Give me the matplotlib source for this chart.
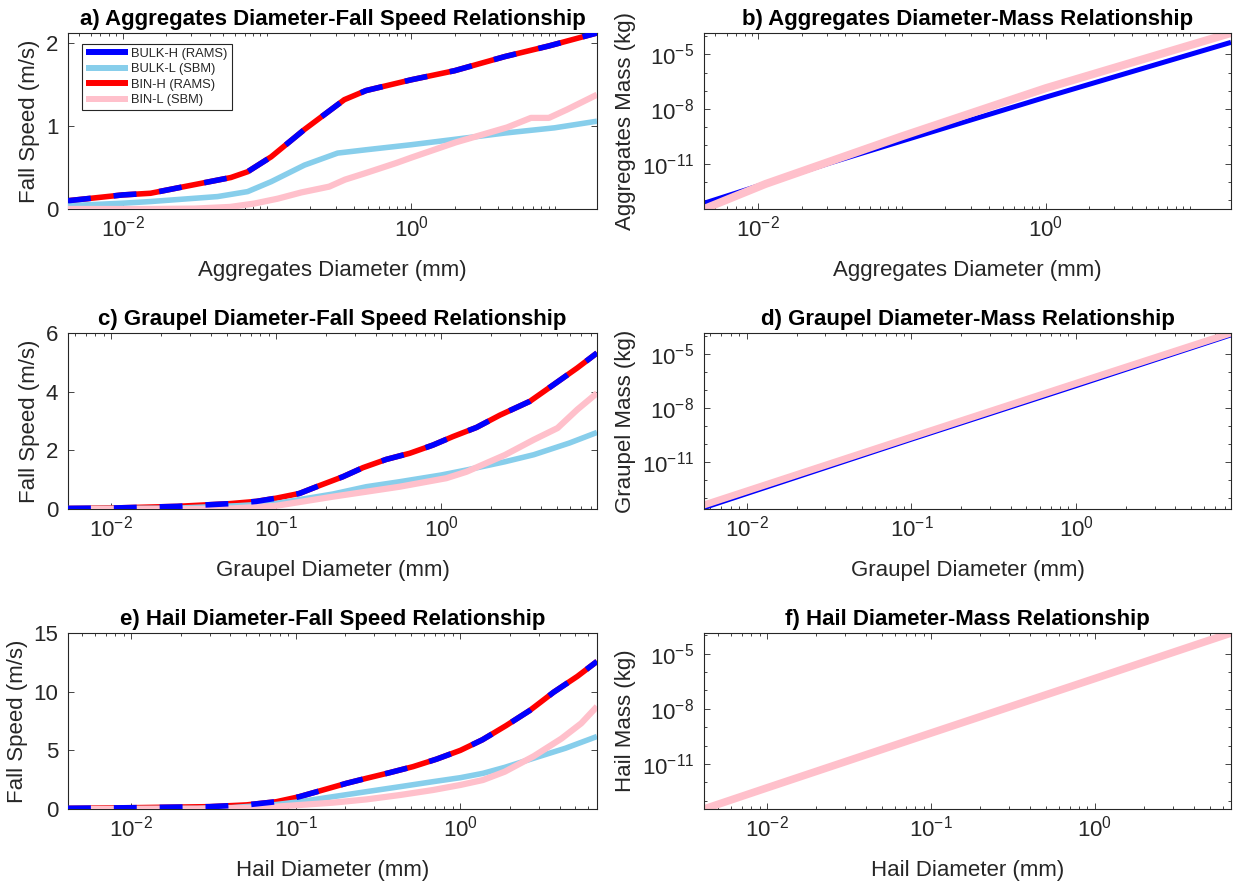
import matplotlib
matplotlib.use("Agg")
import matplotlib.pyplot as plt
from matplotlib.lines import Line2D
from matplotlib.ticker import FixedLocator, NullFormatter, LogFormatterSciNotation

plt.rcParams["font.family"] = ["Liberation Sans", "DejaVu Sans"]
plt.rcParams["lines.scale_dashes"] = False
plt.rcParams["axes.unicode_minus"] = False

# ---------------- Aggregates ----------------
agg_d_bulk_h = [0.00418, 0.0100, 0.0156, 0.0267, 0.0562, 0.0735, 0.107, 0.182, 0.344, 0.486,
                1.00, 2.00, 4.45, 9.06, 19.4]
agg_v_bulk_h = [0.10, 0.17, 0.19, 0.27, 0.38, 0.45, 0.63, 0.96, 1.32, 1.43,
                1.56, 1.67, 1.84, 1.97, 2.125]
agg_d_bin_h = agg_d_bulk_h
agg_v_bin_h = agg_v_bulk_h
agg_d_bulk_l = [0.00418, 0.0100, 0.0156, 0.0455, 0.0735, 0.107, 0.182, 0.309, 0.486,
                1.00, 1.90, 4.45, 9.84, 19.4]
agg_v_bulk_l = [0.04, 0.07, 0.09, 0.15, 0.21, 0.33, 0.53, 0.675, 0.715,
                0.776, 0.836, 0.917, 0.98, 1.06]
agg_d_bin_l = [0.00418, 0.0158, 0.0316, 0.0555, 0.0813, 0.119, 0.173, 0.270, 0.348, 0.476,
               0.787, 1.00, 2.04, 4.62, 6.76, 9.00, 12.0, 19.4]
agg_v_bin_l = [0.0, 0.0, 0.005, 0.025, 0.065, 0.125, 0.20, 0.27, 0.355, 0.43,
               0.555, 0.62, 0.805, 0.985, 1.10, 1.10, 1.20, 1.38]

agg_md_bulk_h = [0.00418, 0.0316, 1.00, 19.4]
agg_m_bulk_h = [6.6e-14, 1.1e-11, 4.5e-8, 4.6e-5]
agg_md_bin_l = [0.00418, 0.0112, 0.100, 1.00, 19.4]
agg_m_bin_l = [3.2e-14, 7.6e-13, 3.2e-10, 1.4e-7, 1.5e-4]

# ---------------- Graupel ----------------
grp_d_bulk_h = [0.00548, 0.0104, 0.0251, 0.0515, 0.0759, 0.100, 0.138, 0.183, 0.253, 0.335,
                0.463, 0.643, 0.889, 1.175, 1.63, 2.26, 3.43, 4.78, 6.65, 8.75]
grp_v_bulk_h = [0.02, 0.035, 0.09, 0.18, 0.26, 0.37, 0.53, 0.80, 1.10, 1.41,
                1.69, 1.90, 2.18, 2.47, 2.78, 3.20, 3.67, 4.24, 4.81, 5.32]
grp_d_bin_h = grp_d_bulk_h
grp_v_bin_h = grp_v_bulk_h
grp_d_bulk_l = [0.00548, 0.0251, 0.0575, 0.100, 0.220, 0.351, 0.559, 1.00, 1.42, 2.42,
                3.62, 5.96, 8.75]
grp_v_bulk_l = [0.01, 0.03, 0.11, 0.19, 0.51, 0.76, 0.93, 1.16, 1.33, 1.61,
                1.85, 2.25, 2.61]
grp_d_bin_l = [0.00548, 0.0316, 0.0545, 0.100, 0.220, 0.351, 0.559, 1.07, 1.42, 2.42,
               3.62, 5.05, 6.65, 8.75]
grp_v_bin_l = [0.0, 0.0, 0.02, 0.11, 0.42, 0.59, 0.76, 1.05, 1.27, 1.84,
               2.36, 2.76, 3.39, 3.95]

grp_md = [0.00548, 0.100, 1.00, 8.75]
grp_m_bulk_h = [2.5e-14, 1.6e-10, 1.5e-7, 1.0e-4]
grp_m_bin_l = [4.2e-14, 2.5e-10, 2.4e-7, 1.5e-4]

# ---------------- Hail ----------------
hail_d_bulk_h = [0.00412, 0.0100, 0.0299, 0.0501, 0.0760, 0.105, 0.146, 0.203, 0.269, 0.372,
                 0.515, 0.716, 1.00, 1.36, 1.89, 2.64, 3.68, 5.13, 6.76]
hail_v_bulk_h = [0.06, 0.11, 0.20, 0.35, 0.62, 1.05, 1.62, 2.19, 2.62, 3.10,
                 3.61, 4.25, 5.0, 5.9, 7.1, 8.4, 9.95, 11.3, 12.58]
hail_d_bin_h = hail_d_bulk_h
hail_v_bin_h = hail_v_bulk_h
hail_d_bulk_l = [0.00412, 0.0251, 0.0407, 0.0760, 0.105, 0.168, 0.269, 0.428, 0.682, 1.00,
                 1.37, 1.86, 2.79, 4.35, 6.76]
hail_v_bulk_l = [0.02, 0.05, 0.12, 0.38, 0.62, 1.05, 1.48, 1.90, 2.33, 2.67,
                 3.04, 3.55, 4.33, 5.18, 6.18]
hail_d_bin_l = [0.00412, 0.0251, 0.0631, 0.105, 0.168, 0.269, 0.428, 0.682, 1.00, 1.37,
                1.86, 2.79, 4.11, 5.42, 6.76]
hail_v_bin_l = [0.0, 0.02, 0.12, 0.34, 0.54, 0.82, 1.19, 1.62, 2.05, 2.47,
                3.18, 4.5, 6.0, 7.3, 8.74]

hail_md = [0.00412, 0.0100, 0.100, 1.00, 6.76]
hail_m_bin_l = [3.5e-14, 5.0e-13, 4.8e-10, 4.5e-7, 1.35e-4]

series_labels = ["BULK-H (RAMS)", "BULK-L (SBM)", "BIN-H (RAMS)", "BIN-L (SBM)"]

# ---------------- styling ----------------
C_BULK_H = (0.0, 0.0, 1.0)
C_BULK_L = "#87CEEB"
C_BIN_H = (1.0, 0.0, 0.0)
C_BIN_L = "#FFC0CB"
AX_COL = "#262626"
FS = 16
DASH = (0, (16.5, 16.5))
XPAD = 13

fig = plt.figure(figsize=(12.33, 8.86), dpi=100)

W, H = 1233.0, 886.0
cols = [(68, 529), (704, 527)]
rows = [33, 333, 633]
AXH = 176


def make_axes(r, c):
    x0, w = cols[c]
    top = rows[r]
    return fig.add_axes([x0 / W, 1 - (top + AXH) / H, w / W, AXH / H])


def style(ax, xmajor, ylog=False, ymajor=None, yminor=None):
    ax.set_xscale("log")
    ax.xaxis.set_major_locator(FixedLocator(xmajor))
    ax.xaxis.set_major_formatter(LogFormatterSciNotation())
    ax.xaxis.set_minor_locator(FixedLocator(
        [m * 10.0 ** e for e in range(-4, 3) for m in range(1, 10)]))
    ax.xaxis.set_minor_formatter(NullFormatter())
    if ylog:
        ax.set_yscale("log")
        ax.yaxis.set_major_locator(FixedLocator(ymajor))
        ax.yaxis.set_major_formatter(LogFormatterSciNotation())
        ax.yaxis.set_minor_locator(FixedLocator(yminor))
        ax.yaxis.set_minor_formatter(NullFormatter())
    else:
        ax.yaxis.set_major_locator(FixedLocator(ymajor))
    for s in ax.spines.values():
        s.set_color(AX_COL)
        s.set_linewidth(0.8)
    ax.tick_params(which="both", direction="in", top=True, right=True,
                   colors=AX_COL, labelcolor=AX_COL, labelsize=FS, width=0.6)
    ax.tick_params(which="major", length=4.0)
    ax.tick_params(axis="x", which="major", pad=5)
    ax.tick_params(axis="y", which="major", pad=7)
    ax.tick_params(which="minor", length=2.2)


def speed_panel(ax, d_bulk_h, v_bulk_h, d_bin_h, v_bin_h, d_bulk_l, v_bulk_l,
                d_bin_l, v_bin_l):
    ax.plot(d_bin_h, v_bin_h, color=C_BIN_H, lw=4.0, solid_capstyle="butt", zorder=2)
    ax.plot(d_bulk_l, v_bulk_l, color=C_BULK_L, lw=4.0, solid_capstyle="butt", zorder=3)
    ax.plot(d_bin_l, v_bin_l, color=C_BIN_L, lw=4.5, solid_capstyle="butt", zorder=4)
    ax.plot(d_bulk_h, v_bulk_h, color=C_BULK_H, lw=4.0, linestyle=DASH,
            dash_capstyle="butt", zorder=5)
    ax.set_xlim(d_bulk_h[0], d_bulk_h[-1])


yminor_mass = [10.0 ** e for e in range(-15, -1)]

# a) aggregates fall speed
ax = make_axes(0, 0)
speed_panel(ax, agg_d_bulk_h, agg_v_bulk_h, agg_d_bin_h, agg_v_bin_h,
            agg_d_bulk_l, agg_v_bulk_l, agg_d_bin_l, agg_v_bin_l)
ax.set_ylim(0, max(agg_v_bulk_h))
style(ax, [1e-2, 1e0], ymajor=[0, 1, 2])
ax.set_title("a) Aggregates Diameter-Fall Speed Relationship", fontsize=FS, fontweight="bold")
ax.set_xlabel("Aggregates Diameter (mm)", fontsize=FS, color=AX_COL, labelpad=XPAD)
ax.set_ylabel("Fall Speed (m/s)", fontsize=FS, color=AX_COL)
handles = [Line2D([], [], color=c, lw=4.3, solid_capstyle="butt")
           for c in (C_BULK_H, C_BULK_L, C_BIN_H, C_BIN_L)]
leg = ax.legend(handles, series_labels, loc="upper left", bbox_to_anchor=(0.026, 0.9375),
                borderaxespad=0, fontsize=9.3, handlelength=3.3, handletextpad=0.25,
                labelspacing=0.26, borderpad=0.3, fancybox=False, framealpha=1,
                edgecolor=AX_COL)
leg.get_frame().set_linewidth(0.8)
for t in leg.get_texts():
    t.set_color(AX_COL)

# b) aggregates mass
ax = make_axes(0, 1)
ax.plot(agg_md_bulk_h, agg_m_bulk_h, color=C_BULK_H, lw=3.6, solid_capstyle="butt")
ax.plot(agg_md_bin_l, agg_m_bin_l, color=C_BIN_L, lw=5.8, solid_capstyle="butt")
ax.set_xlim(agg_md_bin_l[0], agg_md_bin_l[-1])
ax.set_ylim(min(agg_m_bin_l + agg_m_bulk_h), max(agg_m_bin_l + agg_m_bulk_h))
style(ax, [1e-2, 1e0], ylog=True, ymajor=[1e-11, 1e-8, 1e-5], yminor=yminor_mass)
ax.set_title("b) Aggregates Diameter-Mass Relationship", fontsize=FS, fontweight="bold")
ax.set_xlabel("Aggregates Diameter (mm)", fontsize=FS, color=AX_COL, labelpad=XPAD)
ax.set_ylabel("Aggregates Mass (kg)", fontsize=FS, color=AX_COL)

# c) graupel fall speed
ax = make_axes(1, 0)
speed_panel(ax, grp_d_bulk_h, grp_v_bulk_h, grp_d_bin_h, grp_v_bin_h,
            grp_d_bulk_l, grp_v_bulk_l, grp_d_bin_l, grp_v_bin_l)
ax.set_ylim(0, 6)
style(ax, [1e-2, 1e-1, 1e0], ymajor=[0, 2, 4, 6])
ax.set_title("c) Graupel Diameter-Fall Speed Relationship", fontsize=FS, fontweight="bold")
ax.set_xlabel("Graupel Diameter (mm)", fontsize=FS, color=AX_COL, labelpad=XPAD)
ax.set_ylabel("Fall Speed (m/s)", fontsize=FS, color=AX_COL)

# d) graupel mass
ax = make_axes(1, 1)
ax.plot(grp_md, grp_m_bulk_h, color=C_BULK_H, lw=1.8, solid_capstyle="butt")
ax.plot(grp_md, grp_m_bin_l, color=C_BIN_L, lw=5.0, solid_capstyle="butt")
ax.set_xlim(grp_md[0], grp_md[-1])
ax.set_ylim(min(grp_m_bulk_h + grp_m_bin_l), max(grp_m_bulk_h + grp_m_bin_l))
style(ax, [1e-2, 1e-1, 1e0], ylog=True, ymajor=[1e-11, 1e-8, 1e-5], yminor=yminor_mass)
ax.set_title("d) Graupel Diameter-Mass Relationship", fontsize=FS, fontweight="bold")
ax.set_xlabel("Graupel Diameter (mm)", fontsize=FS, color=AX_COL, labelpad=XPAD)
ax.set_ylabel("Graupel Mass (kg)", fontsize=FS, color=AX_COL)

# e) hail fall speed
ax = make_axes(2, 0)
speed_panel(ax, hail_d_bulk_h, hail_v_bulk_h, hail_d_bin_h, hail_v_bin_h,
            hail_d_bulk_l, hail_v_bulk_l, hail_d_bin_l, hail_v_bin_l)
ax.set_ylim(0, 15)
style(ax, [1e-2, 1e-1, 1e0], ymajor=[0, 5, 10, 15])
ax.set_title("e) Hail Diameter-Fall Speed Relationship", fontsize=FS, fontweight="bold")
ax.set_xlabel("Hail Diameter (mm)", fontsize=FS, color=AX_COL, labelpad=XPAD)
ax.set_ylabel("Fall Speed (m/s)", fontsize=FS, color=AX_COL)

# f) hail mass
ax = make_axes(2, 1)
ax.plot(hail_md, hail_m_bin_l, color=C_BIN_L, lw=5.5, solid_capstyle="butt")
ax.set_xlim(hail_md[0], hail_md[-1])
ax.set_ylim(min(hail_m_bin_l), max(hail_m_bin_l))
style(ax, [1e-2, 1e-1, 1e0], ylog=True, ymajor=[1e-11, 1e-8, 1e-5], yminor=yminor_mass)
ax.set_title("f) Hail Diameter-Mass Relationship", fontsize=FS, fontweight="bold")
ax.set_xlabel("Hail Diameter (mm)", fontsize=FS, color=AX_COL, labelpad=XPAD)
ax.set_ylabel("Hail Mass (kg)", fontsize=FS, color=AX_COL)

fig.savefig("out.png", dpi=100, facecolor="white")
